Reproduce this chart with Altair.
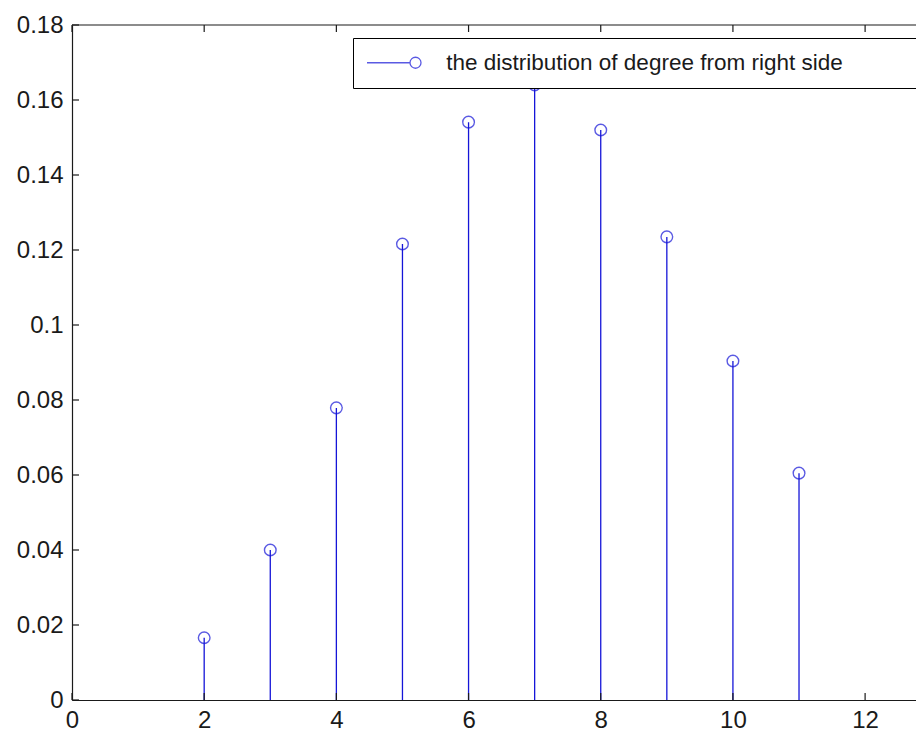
import altair as alt
import pandas as pd

# ---- data ----
degree = [2, 3, 4, 5, 6, 7, 8, 9, 10, 11]
prob = [0.0166, 0.0400, 0.0779, 0.1216, 0.1541, 0.1640, 0.1520, 0.1235, 0.0904, 0.0605]
series_name = "the distribution of degree from right side"
x_ticks = [0, 2, 4, 6, 8, 10, 12]
y_ticks = [0, 0.02, 0.04, 0.06, 0.08, 0.1, 0.12, 0.14, 0.16, 0.18]
x_max = 12.77
y_max = 0.18

# ---- styling ----
BLUE = "#1515d8"
INK = "#1a1a1a"
FONT = "Liberation Sans"
x_tick_len = 0.00187   # ~7 px in y units
y_tick_len = 0.106     # ~7 px in x units
PAD = "\u2800" * 4     # blank (non-trimmed) glyphs that widen the legend box to the right

df = pd.DataFrame({"degree": degree, "prob": prob, "series": [series_name] * len(degree)})

xt = pd.DataFrame({"x": x_ticks})
xt_bottom = xt.assign(y0=0.0, y1=x_tick_len)
xt_top = xt.assign(y0=y_max, y1=y_max - x_tick_len)
x_tick_df = pd.concat([xt_bottom, xt_top], ignore_index=True)

y_tick_df = pd.DataFrame({"y": y_ticks, "x0": 0.0, "x1": y_tick_len})

xscale = alt.Scale(domain=[0, x_max], nice=False, zero=False)
yscale = alt.Scale(domain=[0, y_max], nice=False, zero=False)

xaxis = alt.Axis(values=x_ticks, format="d", ticks=False, grid=False, title=None,
                 labelFontSize=24, labelFont=FONT, labelColor=INK, labelPadding=8,
                 domainColor=INK, domainWidth=1.2, labelFlush=False)
yaxis = alt.Axis(values=y_ticks, labelExpr="format(datum.value, '.2~f')", ticks=False,
                 grid=False, title=None, labelFontSize=24, labelFont=FONT, labelColor=INK,
                 labelPadding=9, domainColor=INK, domainWidth=1.2, labelFlush=False)

sym_path = ("M -2.7 0 L 1.6 0 M 2.7 0 A 0.55 0.55 0 1 1 1.6 0 "
            "A 0.55 0.55 0 1 1 2.7 0")

stems = alt.Chart(df).mark_rule(color=BLUE, strokeWidth=1.3).encode(
    x=alt.X("degree:Q", scale=xscale, axis=xaxis),
    y=alt.Y("prob:Q", scale=yscale, axis=yaxis),
    y2=alt.datum(0),
)

points = alt.Chart(df).mark_point(filled=False, shape="circle", size=135, strokeWidth=1.4).encode(
    x=alt.X("degree:Q", scale=xscale, axis=xaxis),
    y=alt.Y("prob:Q", scale=yscale, axis=yaxis),
    color=alt.Color("series:N", scale=alt.Scale(range=[BLUE]),
                    legend=alt.Legend(title=None, orient="none", legendX=281, legendY=13,
                                      symbolType=sym_path, symbolSize=400,
                                      symbolStrokeWidth=1.3, symbolFillColor="transparent",
                                      symbolOffset=16.25, labelOffset=41, padding=13.5,
                                      strokeColor="black", fillColor="white",
                                      labelFontSize=22.5, labelFont=FONT, labelColor=INK,
                                      labelLimit=0, cornerRadius=0,
                                      labelExpr="datum.label + '" + PAD + "'")),
)

x_tick_marks = alt.Chart(x_tick_df).mark_rule(color=INK, strokeWidth=1.2).encode(
    x=alt.X("x:Q", scale=xscale, axis=xaxis),
    y=alt.Y("y0:Q", scale=yscale, axis=yaxis),
    y2="y1:Q",
)

y_tick_marks = alt.Chart(y_tick_df).mark_rule(color=INK, strokeWidth=1.2).encode(
    x=alt.X("x0:Q", scale=xscale, axis=xaxis),
    x2="x1:Q",
    y=alt.Y("y:Q", scale=yscale, axis=yaxis),
)

top_border = alt.Chart(pd.DataFrame({"y": [y_max], "x0": [0.0], "x1": [x_max]})).mark_rule(
    color=INK, strokeWidth=1.2).encode(
    x=alt.X("x0:Q", scale=xscale, axis=xaxis),
    x2="x1:Q",
    y=alt.Y("y:Q", scale=yscale, axis=yaxis),
)

chart = alt.layer(stems, points, x_tick_marks, y_tick_marks, top_border).properties(
    width=844, height=675,
    padding={"left": 72, "top": 25, "right": 0, "bottom": 32},
    autosize=alt.AutoSizeParams(type="none"),
    background="white",
).configure_view(stroke=None)

chart.save("out.html", embed_options={"renderer": "svg", "actions": False})
